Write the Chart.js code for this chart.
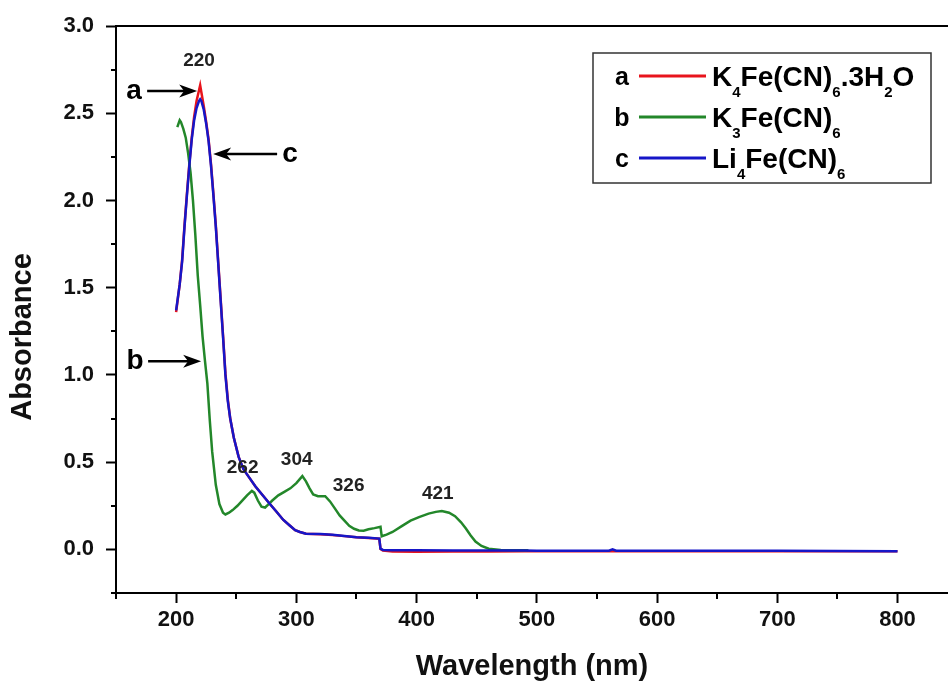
<!DOCTYPE html>
<html>
<head>
<meta charset="utf-8">
<title>UV-Vis absorbance</title>
<script src="https://cdn.jsdelivr.net/npm/chart.js@4.4.1/dist/chart.umd.min.js"></script>
<style>
    html, body { margin: 0; padding: 0; background: #fff; }
    #graph { display: block; }
</style>
</head>
<body>
<canvas id="graph" width="948" height="681"></canvas>
<script>
// wavelengths (nm) for curves a and c
var wlAC = [200, 203, 205, 207, 209, 211, 213, 215, 217, 219, 220, 221, 223, 225, 227, 229, 231, 233, 235, 237,
    239, 241, 243, 245, 248, 252, 256, 261, 266, 272, 278, 283, 289, 294, 299, 303, 308, 320, 330, 340,
    350, 360, 369, 370, 372, 380, 400, 430, 460, 490, 500, 560, 563, 566, 600, 700, 800];
// a: K4Fe(CN)6.3H2O
var absA = [1.36, 1.52, 1.66, 1.86, 2.04, 2.21, 2.36, 2.48, 2.57, 2.63, 2.66, 2.62, 2.54, 2.45, 2.35, 2.21, 2.04, 1.86, 1.65, 1.44,
    1.23, 1.01, 0.86, 0.75, 0.64, 0.53, 0.46, 0.41, 0.36, 0.31, 0.26, 0.22, 0.17, 0.14, 0.11, 0.10, 0.09, 0.087, 0.083, 0.076,
    0.069, 0.065, 0.061, 0.002, -0.006, -0.012, -0.013, -0.012, -0.012, -0.01, -0.01, -0.01, -0.01, -0.01, -0.01, -0.01, -0.01];
// c: Li4Fe(CN)6
var absC = [1.37, 1.52, 1.65, 1.85, 2.03, 2.20, 2.35, 2.46, 2.53, 2.57, 2.58, 2.57, 2.52, 2.44, 2.34, 2.20, 2.03, 1.85, 1.64, 1.43,
    1.22, 1.00, 0.85, 0.75, 0.64, 0.53, 0.46, 0.41, 0.36, 0.31, 0.26, 0.22, 0.17, 0.14, 0.11, 0.10, 0.09, 0.088, 0.084, 0.077,
    0.07, 0.066, 0.062, 0.004, -0.003, -0.005, -0.005, -0.006, -0.006, -0.006, -0.008, -0.008, 0.0, -0.008, -0.008, -0.008, -0.01];

// b: K3Fe(CN)6
var wlB = [201, 202, 203, 204, 206, 208, 210, 212, 214, 216, 218, 220, 222, 224, 226, 228, 230, 233, 236, 239,
    241, 244, 247, 251, 255, 259, 263, 265, 268, 271, 274, 277, 280, 285, 290, 295, 300, 305, 308, 311,
    314, 318, 324, 328, 332, 336, 340, 344, 348, 352, 356, 360, 365, 370, 371, 375, 380, 388, 395, 402,
    410, 416, 421, 427, 432, 437, 441, 445, 449, 454, 460, 470, 480, 493];
var absB = [2.42, 2.44, 2.46, 2.45, 2.41, 2.36, 2.27, 2.16, 2.00, 1.80, 1.57, 1.40, 1.22, 1.08, 0.95, 0.74, 0.56, 0.37, 0.26, 0.21,
    0.20, 0.21, 0.225, 0.25, 0.28, 0.31, 0.335, 0.325, 0.28, 0.245, 0.24, 0.26, 0.28, 0.31, 0.33, 0.35, 0.38, 0.42, 0.39, 0.35,
    0.315, 0.305, 0.305, 0.275, 0.235, 0.195, 0.165, 0.135, 0.118, 0.108, 0.107, 0.115, 0.122, 0.13, 0.075, 0.085, 0.10, 0.135, 0.165, 0.185,
    0.205, 0.215, 0.22, 0.21, 0.19, 0.155, 0.12, 0.08, 0.045, 0.02, 0.004, -0.004, -0.005, -0.005];

var seriesTags = ['a', 'b', 'c'];
var seriesNames = ['K_4Fe(CN)_6.3H_2O', 'K_3Fe(CN)_6', 'Li_4Fe(CN)_6'];
var seriesColors = ['#e8141c', '#23872a', '#1616c8'];

var xMajor = [200, 300, 400, 500, 600, 700, 800];
var xMinor = [150, 250, 350, 450, 550, 650, 750];
var yMajor = [0, 0.5, 1.0, 1.5, 2.0, 2.5, 3.0];
var yMinor = [-0.25, 0.25, 0.75, 1.25, 1.75, 2.25, 2.75];

// peak labels (nm, absorbance where the text sits)
var peakText = ['220', '262', '304', '326', '421'];
var peakX = [219.1, 255.3, 300.3, 343.5, 417.6];
var peakY = [2.80, 0.465, 0.516, 0.364, 0.318];

// arrows pointing at the curves
var arrowTail = [175.9, 176.7, 284.0];
var arrowTip = [217.5, 220.8, 230.8];
var arrowY = [2.628, 1.079, 2.266];
var arrowTagX = [165.0, 165.9, 294.8];

var FONT = "'Liberation Sans', Arial, sans-serif";

function toPoints(xs, ys) {
    var pts = [];
    for (var i = 0; i < xs.length; i++) {
        pts.push({x: xs[i], y: ys[i]});
    }
    return pts;
}

function drawArrow(ctx, x1, y, x2) {
    var dir = x2 > x1 ? 1 : -1;
    ctx.beginPath();
    ctx.moveTo(x1, y);
    ctx.lineTo(x2 - dir * 10, y);
    ctx.stroke();
    ctx.beginPath();
    ctx.moveTo(x2, y);
    ctx.lineTo(x2 - dir * 18, y - 6.5);
    ctx.lineTo(x2 - dir * 13, y);
    ctx.lineTo(x2 - dir * 18, y + 6.5);
    ctx.closePath();
    ctx.fill();
}

// text with _N subscripts
function drawRich(ctx, x, y, text) {
    var parts = text.split(/(_\d)/);
    for (var i = 0; i < parts.length; i++) {
        var p = parts[i];
        if (!p) continue;
        if (p[0] === '_') {
            ctx.font = 'bold 15px ' + FONT;
            ctx.fillText(p.slice(1), x, y + 11);
            x += ctx.measureText(p.slice(1)).width;
        } else {
            ctx.font = 'bold 28px ' + FONT;
            ctx.fillText(p, x, y);
            x += ctx.measureText(p).width;
        }
    }
}

var decor = {
    id: 'decor',
    afterDraw: function(chart) {
        var ctx = chart.ctx;
        var xs = chart.scales.x;
        var ys = chart.scales.y;
        var area = chart.chartArea;
        ctx.save();
        ctx.strokeStyle = '#000';
        ctx.fillStyle = '#000';
        ctx.lineWidth = 2;

        // top frame line
        ctx.beginPath();
        ctx.moveTo(area.left - 1, area.top);
        ctx.lineTo(area.right, area.top);
        ctx.stroke();

        // minor ticks
        xMinor.forEach(function(v) {
            var px = Math.round(xs.getPixelForValue(v));
            ctx.beginPath();
            ctx.moveTo(px, area.bottom);
            ctx.lineTo(px, area.bottom + 6);
            ctx.stroke();
        });
        yMinor.forEach(function(v) {
            var py = Math.round(ys.getPixelForValue(v));
            ctx.beginPath();
            ctx.moveTo(area.left, py);
            ctx.lineTo(area.left - 5, py);
            ctx.stroke();
        });

        // y title (sits a bit lower than the axis centre in the original)
        ctx.save();
        ctx.translate(23, 337);
        ctx.rotate(-Math.PI / 2);
        ctx.font = 'bold 29px ' + FONT;
        ctx.fillStyle = '#111';
        ctx.textAlign = 'center';
        ctx.textBaseline = 'middle';
        ctx.fillText('Absorbance', 0, 0);
        ctx.restore();

        // peak labels
        ctx.fillStyle = '#222';
        ctx.font = 'bold 19px ' + FONT;
        ctx.textAlign = 'center';
        ctx.textBaseline = 'middle';
        for (var i = 0; i < peakText.length; i++) {
            ctx.fillText(peakText[i], xs.getPixelForValue(peakX[i]), ys.getPixelForValue(peakY[i]));
        }

        // arrows + letters
        ctx.fillStyle = '#000';
        ctx.lineWidth = 2.5;
        ctx.font = 'bold 28px ' + FONT;
        ctx.textBaseline = 'alphabetic';
        for (var j = 0; j < arrowTip.length; j++) {
            var ay = ys.getPixelForValue(arrowY[j]);
            drawArrow(ctx, xs.getPixelForValue(arrowTail[j]), ay, xs.getPixelForValue(arrowTip[j]));
            ctx.fillText(seriesTags[j], xs.getPixelForValue(arrowTagX[j]), ay + 8);
        }

        // legend box
        var bx = 593, by = 53, bw = 338, bh = 130;
        ctx.lineWidth = 1.5;
        ctx.strokeStyle = '#333';
        ctx.strokeRect(bx, by, bw, bh);
        var rows = [76, 117, 158];
        for (var k = 0; k < seriesNames.length; k++) {
            var ry = rows[k];
            ctx.fillStyle = '#000';
            ctx.textAlign = 'center';
            ctx.font = 'bold 25px ' + FONT;
            ctx.fillText(seriesTags[k], 622, ry + 9);
            ctx.strokeStyle = seriesColors[k];
            ctx.lineWidth = 3;
            ctx.beginPath();
            ctx.moveTo(639, ry);
            ctx.lineTo(706, ry);
            ctx.stroke();
            ctx.textAlign = 'left';
            drawRich(ctx, 712, ry + 10, seriesNames[k]);
        }
        ctx.restore();
    }
};

var datasets = [];
var allX = [wlAC, wlB, wlAC];
var allY = [absA, absB, absC];
for (var s = 0; s < 3; s++) {
    datasets.push({
        label: seriesNames[s].replace(/_/g, ''),
        data: toPoints(allX[s], allY[s]),
        borderColor: seriesColors[s],
        borderWidth: 2.5,
        pointRadius: 0,
        tension: 0,
        fill: false,
        order: 3 - s
    });
}

var tickFont = {family: FONT, size: 22, weight: 'bold'};
var titleFont = {family: FONT, size: 29, weight: 'bold', lineHeight: 1};

var graph = document.getElementById('graph').getContext('2d');
var uvChart = new Chart(graph, {
    type: 'line',
    data: {datasets: datasets},
    options: {
        responsive: false,
        animation: false,
        layout: {padding: {top: 26, right: 0, left: 0, bottom: 0}},
        plugins: {
            legend: {display: false},
            tooltip: {enabled: false}
        },
        scales: {
            x: {
                type: 'linear',
                min: 150,
                max: 842,
                afterFit: function(s) { s.height = 88; s.paddingLeft = 0; s.paddingRight = 0; },
                afterBuildTicks: function(s) { s.ticks = xMajor.map(function(v) { return {value: v}; }); },
                grid: {drawOnChartArea: false, drawTicks: true, tickLength: 10, tickWidth: 2, tickColor: '#000'},
                border: {color: '#000', width: 2},
                ticks: {font: tickFont, color: '#111', padding: 4, maxRotation: 0, autoSkip: false,
                    callback: function(v) { return v; }},
                title: {display: true, text: 'Wavelength (nm)', font: titleFont, color: '#111', padding: {top: 0, bottom: 0}}
            },
            y: {
                min: -0.25,
                max: 3.0,
                afterFit: function(s) { s.width = 116; s.paddingTop = 0; s.paddingBottom = 0; },
                afterBuildTicks: function(s) { s.ticks = yMajor.map(function(v) { return {value: v}; }); },
                grid: {drawOnChartArea: false, drawTicks: true, tickLength: 10, tickWidth: 2, tickColor: '#000'},
                border: {color: '#000', width: 2},
                ticks: {font: tickFont, color: '#111', padding: 12,
                    callback: function(v) { return Number(v).toFixed(1); }},
                title: {display: false}
            }
        }
    },
    plugins: [decor]
});
</script>
</body>
</html>
